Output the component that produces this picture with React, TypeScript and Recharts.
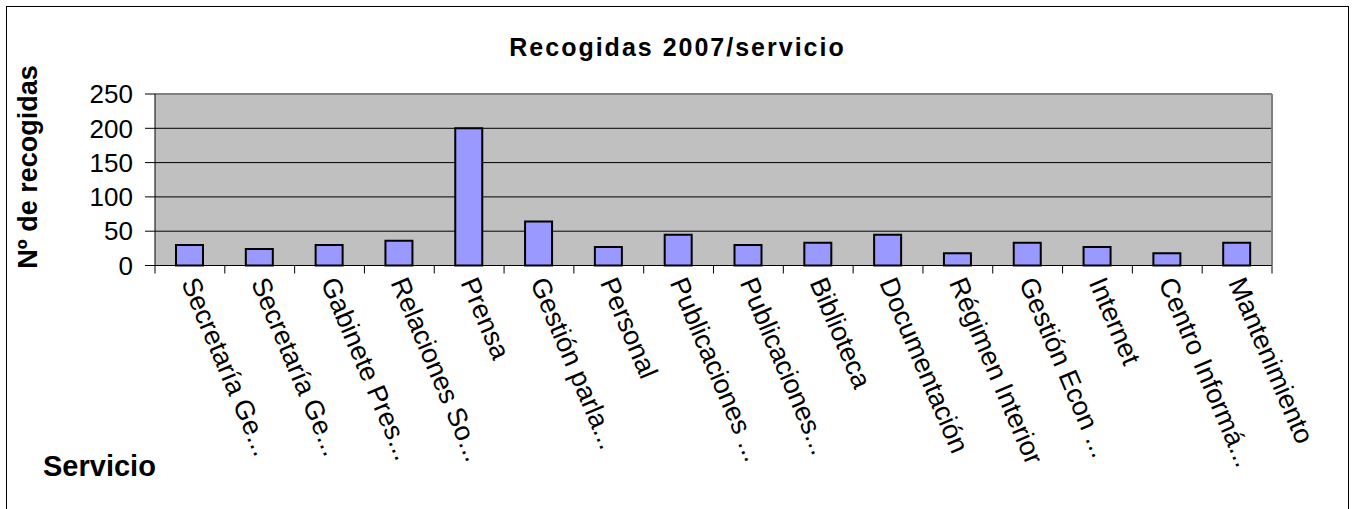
import { BarChart, Bar, XAxis, YAxis, CartesianGrid, Label } from "recharts";

const categories = [
  "Secretaría Ge...",
  "Secretaría Ge...",
  "Gabinete Pres...",
  "Relaciones So...",
  "Prensa",
  "Gestión parla...",
  "Personal",
  "Publicaciones ...",
  "Publicaciones...",
  "Biblioteca",
  "Documentación",
  "Régimen Interior",
  "Gestión Econ ...",
  "Internet",
  "Centro Informá...",
  "Mantenimiento",
];
const recogidas = [30, 24, 30, 36, 200, 64, 27, 45, 30, 33, 45, 18, 33, 27, 18, 33];
const yTicks = [0, 50, 100, 150, 200, 250];

const data = categories.map((name, i) => ({ name, idx: i, recogidas: recogidas[i] }));
const edgeTicks = Array.from({ length: categories.length + 1 }, (_, i) => i);

const FONT = '"Liberation Sans", Arial, sans-serif';

function CategoryTick({ x, y, payload }: any) {
  return (
    <text
      transform={`translate(${x - 9},${y + 8}) rotate(67)`}
      textAnchor="start"
      fontFamily={FONT}
      fontSize={27}
      fill="#000"
    >
      {payload.value}
    </text>
  );
}

function YTitle() {
  return (
    <text
      transform="translate(37,167) rotate(-90)"
      textAnchor="middle"
      fontFamily={FONT}
      fontSize={27}
      fontWeight="bold"
      fill="#000"
    >
      Nº de recogidas
    </text>
  );
}

export default function App() {
  return (
    <div style={{ position: "absolute", left: 0, top: 0, width: 1352, height: 509, overflow: "hidden", background: "#fff" }}>
      <div style={{ position: "absolute", left: 6, top: 6, width: 1341, height: 540, border: "1.5px solid #000" }} />
      <div
        style={{
          position: "absolute",
          left: 7,
          width: 1341,
          top: 33,
          textAlign: "center",
          fontFamily: FONT,
          fontWeight: "bold",
          fontSize: 25,
          letterSpacing: 2,
          lineHeight: "28px",
        }}
      >
        Recogidas 2007/servicio
      </div>
      <div
        style={{
          position: "absolute",
          left: 43,
          top: 452,
          fontFamily: FONT,
          fontWeight: "bold",
          fontSize: 29,
          lineHeight: "29px",
        }}
      >
        Servicio
      </div>
      <div style={{ position: "absolute", left: 0, top: 0 }}>
        <BarChart width={1352} height={509} data={data} margin={{ top: 93, right: 79, bottom: 43.5, left: 65 }}>
          <CartesianGrid fill="#c0c0c0" fillOpacity={1} stroke="#000" vertical={false} />
          <XAxis
            xAxisId="b1"
            dataKey="name"
            interval={0}
            height={199}
            tickLine={false}
            axisLine={false}
            tick={<CategoryTick />}
          />
          <XAxis
            xAxisId="a0"
            dataKey="idx"
            type="number"
            domain={[0, categories.length]}
            allowDataOverflow
            ticks={edgeTicks}
            interval={0}
            height={1}
            tick={() => null}
            tickSize={8}
            tickLine={{ stroke: "#000" }}
            axisLine={{ stroke: "#000" }}
          />
          <XAxis
            xAxisId="top"
            orientation="top"
            type="number"
            dataKey="idx"
            domain={[0, categories.length]}
            allowDataOverflow
            height={1}
            tick={false}
            tickLine={false}
            axisLine={{ stroke: "#808080", strokeWidth: 2 }}
          />
          <YAxis
            domain={[0, 250]}
            ticks={yTicks}
            width={90}
            tickSize={10}
            tickMargin={12}
            interval={0}
            tick={{ fontFamily: FONT, fontSize: 26, fill: "#000" }}
            tickLine={{ stroke: "#000" }}
            axisLine={{ stroke: "#000" }}
          >
            <Label content={<YTitle />} />
          </YAxis>
          <YAxis
            yAxisId="frame"
            orientation="right"
            domain={[0, 1]}
            width={1}
            tick={false}
            tickLine={false}
            axisLine={{ stroke: "#808080", strokeWidth: 2 }}
          />
          <Bar
            xAxisId="b1"
            dataKey="recogidas"
            barSize={27}
            fill="#9999ff"
            stroke="#000"
            strokeWidth={2}
            isAnimationActive={false}
          />
        </BarChart>
      </div>
    </div>
  );
}
